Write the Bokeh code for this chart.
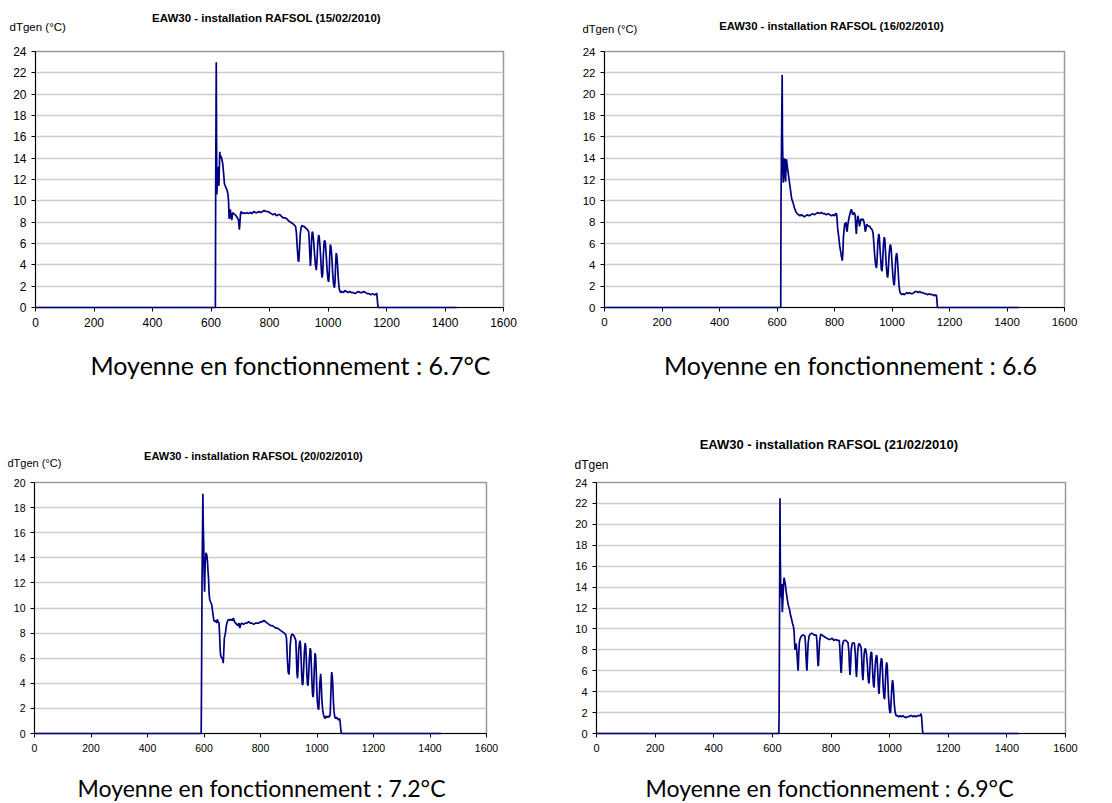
from bokeh.plotting import figure
from bokeh.layouts import column, row
from bokeh.models import Range1d, FixedTicker, Label
from bokeh.embed import file_html
from bokeh.resources import INLINE

# ---------------- data (minutes of the day, dTgen in °C) ----------------
x_ticks = [0, 200, 400, 600, 800, 1000, 1200, 1400, 1600]
y_ticks_24 = [0, 2, 4, 6, 8, 10, 12, 14, 16, 18, 20, 22, 24]
y_ticks_20 = [0, 2, 4, 6, 8, 10, 12, 14, 16, 18, 20]

titles = [
    "EAW30 - installation RAFSOL (15/02/2010)",
    "EAW30 - installation RAFSOL (16/02/2010)",
    "EAW30 - installation RAFSOL (20/02/2010)",
    "EAW30 - installation RAFSOL (21/02/2010)",
]
y_labels = ["dTgen (°C)", "dTgen (°C)", "dTgen (°C)", "dTgen"]
captions = [
    "Moyenne en fonctionnement : 6.7°C",
    "Moyenne en fonctionnement : 6.6",
    "Moyenne en fonctionnement : 7.2°C",
    "Moyenne en fonctionnement : 6.9°C",
]

day_15 = [
    (0, 0), (200, 0), (400, 0), (615, 0), (616, 11), (618, 23.0), (619, 16), (620, 10.6), (622, 12.0), (624, 13.2),
    (626, 12.2), (627, 11.4), (629, 13.6), (630, 14.6), (632, 14.0), (634, 14.2), (637, 13.9), (640, 13.5), (643, 12.6), (646, 11.6),
    (650, 11.3), (655, 11.0), (658, 10.6), (660, 10.0), (662, 8.3), (664, 8.6), (666, 9.2), (668, 8.6), (671, 8.2), (674, 8.9),
    (678, 8.8), (682, 8.7), (686, 8.6), (690, 8.4), (694, 8.2), (696, 7.6), (697, 7.3), (699, 8.0), (701, 8.8), (703, 9.0),
    (707, 8.8), (712, 8.9), (717, 8.8), (722, 8.9), (728, 8.8), (734, 8.9), (740, 8.8), (746, 9.0), (752, 8.9), (758, 8.9),
    (764, 9.0), (770, 8.9), (776, 9.0), (782, 9.1), (788, 9.0), (794, 9.0), (800, 8.9), (806, 8.8), (812, 8.7), (818, 8.8),
    (824, 8.6), (830, 8.7), (836, 8.7), (842, 8.5), (848, 8.4), (854, 8.4), (860, 8.3), (866, 8.1), (872, 8.0), (878, 7.9),
    (882, 7.8), (886, 7.7), (889, 7.6), (892, 7.0), (895, 5.6), (898, 4.4), (900, 4.3), (902, 5.2), (905, 6.8), (908, 7.5),
    (911, 7.7), (914, 7.6), (918, 7.6), (922, 7.5), (926, 7.4), (930, 7.3), (934, 7.1), (936, 6.2), (938, 4.8), (940, 3.9),
    (942, 4.8), (944, 6.4), (946, 7.1), (948, 7.0), (951, 6.2), (954, 5.0), (957, 4.0), (960, 3.5), (962, 4.2), (965, 6.0),
    (968, 6.8), (970, 6.6), (973, 5.6), (976, 4.2), (978, 3.2), (980, 2.8), (982, 3.2), (984, 4.8), (987, 6.2), (989, 6.3),
    (991, 6.0), (994, 4.9), (997, 3.5), (1000, 2.6), (1002, 2.4), (1004, 3.0), (1006, 4.9), (1008, 5.9), (1010, 5.7), (1013, 4.8),
    (1016, 3.2), (1019, 2.2), (1022, 1.85), (1024, 2.4), (1026, 4.0), (1028, 5.1), (1030, 4.9), (1032, 4.2), (1035, 2.8), (1038, 1.8),
    (1040, 1.6), (1043, 1.4), (1048, 1.5), (1053, 1.4), (1058, 1.6), (1063, 1.5), (1068, 1.4), (1074, 1.5), (1080, 1.4), (1086, 1.4),
    (1092, 1.3), (1098, 1.4), (1104, 1.5), (1110, 1.4), (1116, 1.4), (1122, 1.5), (1128, 1.4), (1134, 1.3), (1140, 1.3), (1146, 1.2),
    (1152, 1.3), (1158, 1.2), (1162, 1.2), (1165, 1.3), (1167, 1.3), (1169, 0.6), (1171, 0), (1300, 0), (1440, 0),
]

day_16 = [
    (0, 0), (200, 0), (400, 0), (613, 0), (614, 10), (618, 21.8), (619, 16), (621, 12.5), (622, 11.7), (624, 13.5),
    (626, 14.0), (628, 12.4), (630, 11.8), (632, 13.8), (633, 13.9), (635, 13.4), (638, 12.8), (642, 12.0), (647, 11.0), (651, 10.2),
    (655, 9.9), (660, 9.4), (665, 9.0), (670, 8.8), (675, 8.7), (680, 8.6), (685, 8.7), (690, 8.6), (695, 8.5), (700, 8.6),
    (706, 8.7), (712, 8.6), (718, 8.7), (724, 8.8), (730, 8.7), (736, 8.8), (742, 8.9), (748, 8.8), (754, 8.9), (760, 8.8),
    (766, 8.8), (772, 8.7), (778, 8.8), (784, 8.7), (790, 8.6), (796, 8.7), (800, 8.6), (804, 8.8), (807, 8.8), (809, 8.3),
    (811, 7.4), (814, 6.8), (818, 5.8), (821, 5.3), (824, 4.8), (827, 4.4), (829, 5.0), (831, 6.6), (834, 7.5), (836, 7.9),
    (838, 7.6), (840, 8.0), (842, 7.3), (844, 7.1), (846, 7.7), (849, 8.2), (852, 8.6), (855, 8.9), (858, 9.2), (860, 9.1),
    (863, 8.7), (866, 8.8), (869, 8.9), (872, 8.6), (874, 7.6), (876, 6.9), (878, 7.8), (881, 8.6), (883, 8.4), (885, 8.0),
    (887, 7.6), (889, 7.9), (892, 8.3), (895, 8.2), (899, 8.3), (902, 8.1), (905, 7.6), (907, 7.1), (909, 7.3), (912, 7.8),
    (915, 7.7), (919, 7.6), (923, 7.6), (927, 7.4), (931, 7.3), (934, 7.0), (937, 6.0), (940, 4.8), (943, 4.0), (946, 3.7),
    (948, 4.4), (951, 6.2), (954, 6.9), (956, 6.6), (958, 5.6), (961, 4.4), (963, 3.6), (965, 3.4), (967, 4.0), (970, 5.8),
    (973, 6.6), (975, 6.4), (977, 5.4), (980, 4.0), (983, 3.0), (985, 2.8), (987, 3.4), (990, 5.0), (993, 5.8), (995, 5.9),
    (997, 5.5), (1000, 4.2), (1003, 3.0), (1006, 2.2), (1008, 2.1), (1010, 2.9), (1013, 4.6), (1016, 5.1), (1018, 4.8), (1021, 3.6),
    (1024, 2.2), (1027, 1.5), (1030, 1.3), (1034, 1.2), (1038, 1.3), (1042, 1.2), (1047, 1.3), (1052, 1.4), (1056, 1.3), (1061, 1.4),
    (1066, 1.3), (1071, 1.3), (1076, 1.4), (1081, 1.5), (1086, 1.5), (1091, 1.4), (1096, 1.5), (1101, 1.4), (1106, 1.4), (1112, 1.3),
    (1118, 1.3), (1124, 1.2), (1130, 1.3), (1136, 1.2), (1142, 1.2), (1148, 1.1), (1152, 1.2), (1155, 1.1), (1157, 0.4), (1158, 0),
    (1300, 0), (1440, 0),
]

day_20 = [
    (0, 0), (200, 0), (400, 0), (590, 0), (591, 3), (593, 12), (596, 19.1), (597, 17), (599, 15.1), (600, 13),
    (602, 11.3), (604, 13.5), (607, 14.4), (610, 14.2), (612, 13.8), (614, 13.0), (616, 12.4), (618, 11.2), (620, 10.7), (623, 10.5),
    (627, 10.3), (630, 9.8), (632, 9.5), (635, 9.0), (639, 8.9), (642, 9.0), (645, 8.8), (647, 9.1), (650, 8.9), (653, 8.8),
    (655, 8.0), (657, 6.8), (659, 6.2), (661, 6.1), (664, 6.0), (666, 5.9), (668, 5.6), (670, 6.5), (672, 7.6), (675, 7.9),
    (677, 8.2), (680, 8.7), (684, 9.0), (688, 9.1), (692, 9.0), (696, 9.1), (700, 9.0), (704, 9.2), (708, 8.9), (712, 8.8),
    (716, 8.7), (720, 8.6), (724, 8.8), (727, 8.4), (730, 8.7), (734, 8.8), (740, 8.7), (746, 8.8), (752, 8.8), (758, 8.9),
    (764, 8.8), (770, 8.8), (776, 8.7), (782, 8.8), (788, 8.8), (794, 8.8), (800, 8.9), (806, 8.9), (812, 9.0), (818, 8.9),
    (824, 8.8), (830, 8.7), (836, 8.6), (842, 8.6), (848, 8.5), (854, 8.4), (860, 8.4), (866, 8.3), (872, 8.2), (878, 8.1),
    (884, 8.0), (889, 7.9), (892, 7.6), (895, 6.0), (898, 4.9), (901, 4.7), (903, 5.6), (905, 7.0), (908, 7.7), (911, 7.9),
    (914, 7.9), (918, 7.8), (922, 7.6), (925, 7.4), (927, 6.2), (929, 4.8), (931, 4.4), (933, 5.2), (935, 6.6), (938, 7.2),
    (940, 7.4), (942, 7.0), (944, 5.8), (946, 4.6), (948, 3.9), (950, 3.9), (952, 4.8), (955, 6.4), (958, 7.2), (960, 7.0),
    (962, 6.0), (964, 4.8), (966, 4.0), (968, 3.8), (970, 4.4), (973, 6.0), (976, 6.8), (978, 6.6), (980, 5.4), (982, 4.2),
    (984, 3.2), (986, 2.9), (988, 3.3), (990, 4.9), (993, 6.4), (995, 6.2), (997, 5.2), (999, 3.8), (1001, 2.6), (1004, 2.0),
    (1006, 1.9), (1008, 2.8), (1010, 4.0), (1013, 4.75), (1015, 4.0), (1017, 2.8), (1020, 1.9), (1023, 1.5), (1026, 1.3), (1029, 1.2),
    (1032, 1.4), (1035, 1.3), (1038, 1.3), (1041, 1.4), (1044, 1.3), (1047, 1.6), (1049, 3.2), (1051, 4.5), (1052, 4.9), (1054, 4.6),
    (1056, 3.8), (1058, 2.6), (1060, 1.8), (1063, 1.3), (1066, 1.2), (1069, 1.3), (1072, 1.2), (1075, 1.1), (1078, 1.1), (1080, 1.2),
    (1082, 0.9), (1084, 0.4), (1086, 0), (1300, 0), (1440, 0),
]

day_21 = [
    (0, 0), (200, 0), (400, 0), (622, 0), (623, 2), (625, 15), (626, 22.5), (627, 17), (629, 13.0), (631, 13.8),
    (632, 14.3), (633, 12.5), (634, 11.6), (636, 12.8), (638, 14.2), (640, 14.9), (642, 14.6), (644, 14.3), (647, 13.6), (650, 13.0),
    (654, 12.3), (659, 11.8), (662, 11.3), (665, 11.0), (668, 10.6), (672, 10.2), (674, 9.8), (676, 8.6), (677, 8.0), (679, 8.5),
    (681, 8.6), (683, 8.0), (685, 7.2), (687, 6.2), (688, 6.0), (690, 7.6), (692, 8.7), (695, 9.1), (699, 9.3), (703, 9.4),
    (707, 9.4), (711, 9.3), (713, 8.6), (715, 7.2), (717, 6.2), (718, 6.0), (720, 7.4), (722, 8.6), (725, 9.3), (729, 9.5),
    (734, 9.6), (739, 9.5), (744, 9.4), (750, 9.4), (752, 8.8), (754, 7.4), (756, 6.5), (757, 6.45), (759, 7.6), (761, 8.8),
    (765, 9.5), (770, 9.4), (775, 9.3), (780, 9.2), (786, 9.1), (792, 9.0), (798, 9.0), (804, 9.1), (810, 8.9), (816, 9.0),
    (822, 8.9), (828, 8.9), (830, 8.2), (832, 7.0), (834, 5.9), (835, 5.8), (837, 7.0), (839, 8.4), (842, 8.8), (846, 8.9),
    (850, 8.9), (854, 8.8), (858, 8.7), (861, 7.8), (863, 6.4), (865, 5.6), (867, 6.6), (869, 8.0), (872, 8.6), (876, 8.7),
    (880, 8.6), (883, 7.6), (885, 6.2), (887, 5.4), (889, 6.4), (891, 7.8), (894, 8.5), (897, 8.6), (900, 8.4), (903, 8.2),
    (905, 7.0), (907, 5.6), (909, 5.1), (911, 6.2), (913, 7.6), (916, 8.1), (918, 8.1), (921, 7.6), (924, 6.6), (926, 5.6),
    (928, 4.9), (930, 4.8), (932, 5.8), (934, 7.2), (937, 7.8), (939, 7.7), (941, 6.6), (943, 5.4), (945, 4.6), (947, 4.4),
    (949, 5.6), (952, 7.0), (955, 7.5), (957, 7.3), (959, 6.2), (961, 4.8), (963, 3.9), (964, 3.8), (966, 5.0), (969, 6.6),
    (972, 7.2), (974, 7.0), (976, 5.8), (978, 4.4), (981, 3.4), (983, 3.3), (985, 4.6), (988, 6.4), (990, 6.8), (992, 6.4),
    (994, 5.0), (996, 3.6), (999, 2.4), (1001, 2.0), (1003, 2.0), (1005, 3.0), (1008, 4.6), (1010, 5.1), (1012, 4.7), (1014, 3.8),
    (1016, 2.8), (1019, 2.0), (1022, 1.7), (1026, 1.7), (1030, 1.6), (1035, 1.7), (1040, 1.6), (1045, 1.7), (1050, 1.6), (1055, 1.5),
    (1060, 1.6), (1065, 1.6), (1070, 1.7), (1075, 1.7), (1080, 1.6), (1085, 1.7), (1090, 1.6), (1095, 1.7), (1100, 1.7), (1104, 1.7),
    (1107, 1.9), (1109, 1.6), (1111, 0.8), (1113, 0), (1300, 0), (1440, 0),
]

series = [day_15, day_16, day_20, day_21]
y_max = [24, 24, 20, 24]
y_tick_sets = [y_ticks_24, y_ticks_24, y_ticks_20, y_ticks_24]

# ---------------- layout / styling ----------------
PAGE_W = 1110
# chart figures: (width, height, border left, right, top, bottom)
geoms = [
    (556, 300, 35, 53, 11, 33),
    (554, 300, 48, 46, 9, 33),
    (556, 296, 34, 70, 8, 30),
    (554, 296, 40, 45, 7, 37),
]
tick_font = ["12px", "11.5px", "10.5px", "11px"]
title_font = ["11.5px", "11.3px", "11px", "13px"]
ylab_font = ["11.5px", "11.2px", "11px", "12px"]
cap_font = ["25px", "25px", "23px", "23px"]

# text strips (height) and text anchors inside them, in pixels from strip top-left
head_h = [40, 74]
foot_h = [60, 32]
title_pos = [(266, 17.1), (831, 25.5), (253, 55.6), (828.5, 44.1)]
ylab_pos = [(9, 26.1), (582, 28.8), (7, 62.3), (574, 64.5)]
cap_pos = [(290, 24), (850, 24), (261, 17.8), (829, 17.8)]

LINE = "#000080"
ARIAL = "Liberation Sans"
CAPFONT = "Lato"


def make_chart(i):
    w, h, bl, br, bt, bb = geoms[i]
    p = figure(width=w, height=h, output_backend="svg", toolbar_location=None,
               x_range=Range1d(0, 1600), y_range=Range1d(0, y_max[i]),
               min_border_left=bl, min_border_right=br,
               min_border_top=bt, min_border_bottom=bb,
               background_fill_color="white", border_fill_color="white")
    xs = [pt[0] for pt in series[i]]
    ys = [pt[1] for pt in series[i]]
    r = p.line(xs, ys, line_color=LINE, line_width=1.7)
    r.level = "overlay"

    p.outline_line_color = "#9a9a9a"
    p.outline_line_width = 1.5
    p.xgrid.visible = False
    p.ygrid.grid_line_color = "#cccccc"
    p.ygrid.grid_line_width = 1.5
    p.ygrid.ticker = FixedTicker(ticks=y_tick_sets[i])

    for ax in (p.xaxis[0], p.yaxis[0]):
        ax.axis_line_color = "black"
        ax.axis_line_width = 1
        ax.major_tick_line_color = "black"
        ax.major_tick_in = 0
        ax.major_tick_out = 4
        ax.minor_tick_line_color = None
        ax.major_label_text_font = ARIAL
        ax.major_label_text_font_size = tick_font[i]
        ax.major_label_text_color = "black"
    p.xaxis[0].ticker = FixedTicker(ticks=x_ticks)
    p.yaxis[0].ticker = FixedTicker(ticks=y_tick_sets[i])
    p.xaxis[0].major_label_standoff = 6
    p.yaxis[0].major_label_standoff = 5
    return p


def make_strip(h):
    s = figure(width=PAGE_W, height=h, output_backend="svg", toolbar_location=None,
               x_range=Range1d(0, PAGE_W), y_range=Range1d(h, 0),
               x_axis_location=None, y_axis_location=None,
               min_border=0, outline_line_color=None,
               background_fill_color="white", border_fill_color="white")
    s.grid.visible = False
    return s


heads = [make_strip(head_h[0]), make_strip(head_h[1])]
foots = [make_strip(foot_h[0]), make_strip(foot_h[1])]

for i in range(4):
    hs = heads[i // 2]
    fs = foots[i // 2]
    hs.add_layout(Label(x=title_pos[i][0], y=title_pos[i][1], text=titles[i],
                        text_font=ARIAL, text_font_style="bold",
                        text_font_size=title_font[i], text_color="black",
                        text_align="center", text_baseline="alphabetic"))
    hs.add_layout(Label(x=ylab_pos[i][0], y=ylab_pos[i][1], text=y_labels[i],
                        text_font=ARIAL, text_font_size=ylab_font[i], text_color="black",
                        text_align="left", text_baseline="alphabetic"))
    fs.add_layout(Label(x=cap_pos[i][0], y=cap_pos[i][1], text=captions[i],
                        text_font=CAPFONT, text_font_size=cap_font[i], text_color="black",
                        text_align="center", text_baseline="alphabetic"))

charts = [make_chart(i) for i in range(4)]
layout = column(heads[0], row(charts[0], charts[1]), foots[0],
                heads[1], row(charts[2], charts[3]), foots[1])

open("out.html", "w").write(file_html(layout, INLINE))
